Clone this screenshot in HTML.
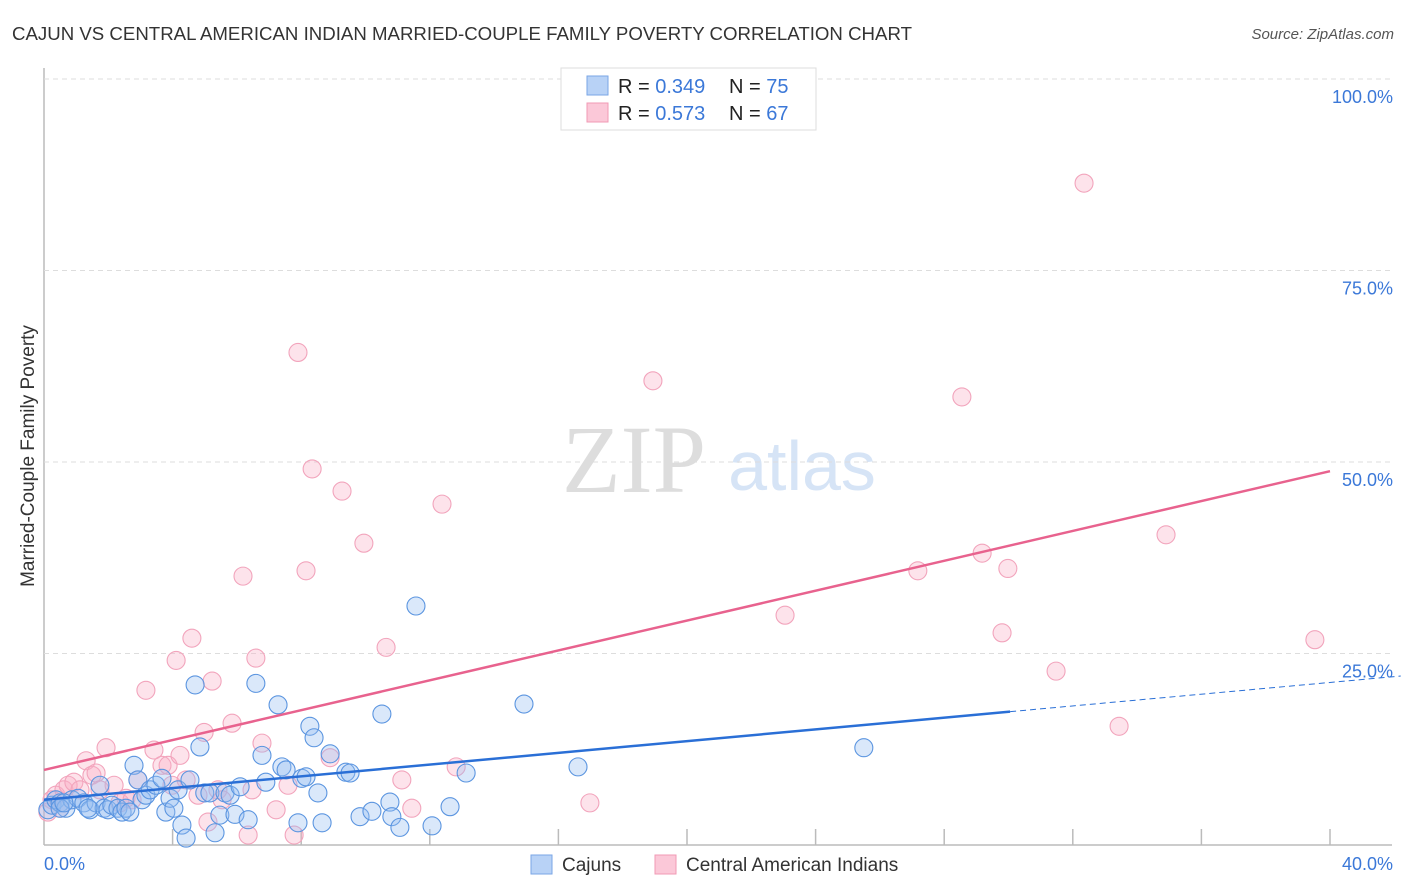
<!DOCTYPE html>
<html><head><meta charset="utf-8"><style>
body{margin:0;background:#fff;font-family:"Liberation Sans",sans-serif;}
#wrap{position:relative;width:1406px;height:892px;overflow:hidden;}
</style></head><body>
<div id="wrap">
<svg id="svg" width="1406" height="892" xmlns="http://www.w3.org/2000/svg">
<text x="12" y="40" font-size="18" fill="#333" textLength="900" lengthAdjust="spacingAndGlyphs">CAJUN VS CENTRAL AMERICAN INDIAN MARRIED-COUPLE FAMILY POVERTY CORRELATION CHART</text>
<text x="1394" y="39" font-size="15" fill="#555" font-style="italic" text-anchor="end">Source: ZipAtlas.com</text>
<text x="634" y="492" font-size="96" fill="#ddd" font-family="Liberation Serif,serif" text-anchor="middle">ZIP</text>
<text x="802" y="490" font-size="70" fill="#d6e4f6" text-anchor="middle">atlas</text>
<text transform="translate(34,456) rotate(-90)" font-size="19" fill="#333" text-anchor="middle">Married-Couple Family Poverty</text>
<g id="grid"></g><g id="pts"></g><g id="lines"></g>
<rect x="561" y="68" width="255" height="62" fill="#fff" stroke="#ddd"/>
<rect x="587" y="76" width="21" height="19" fill="#b8d2f6" stroke="#7aa6e6"/>
<rect x="587" y="103" width="21" height="19" fill="#fbc8d8" stroke="#f09ab4"/>
<text x="618" y="93" font-size="20" fill="#222">R = <tspan fill="#3b78d8">0.349</tspan></text>
<text x="729" y="93" font-size="20" fill="#222">N = <tspan fill="#3b78d8">75</tspan></text>
<text x="618" y="120" font-size="20" fill="#222">R = <tspan fill="#3b78d8">0.573</tspan></text>
<text x="729" y="120" font-size="20" fill="#222">N = <tspan fill="#3b78d8">67</tspan></text>
<rect x="531" y="855" width="21" height="19" fill="#b8d2f6" stroke="#7aa6e6"/>
<text x="562" y="871" font-size="19" fill="#333">Cajuns</text>
<rect x="655" y="855" width="21" height="19" fill="#fbc8d8" stroke="#f09ab4"/>
<text x="686" y="871" font-size="19" fill="#333">Central American Indians</text>
<text x="44" y="870" font-size="18" fill="#3b78d8">0.0%</text>
<text x="1393" y="870" font-size="18" fill="#3b78d8" text-anchor="end">40.0%</text>
</svg></div>
<script>
const yTicks=[100,75,50,25];
const yTickLabels=["100.0%","75.0%","50.0%","25.0%"];
const xTicks=[4,8,12,16,20,24,28,32,36,40];
const cajunX=[0.12,0.25,0.37,0.5,0.68,0.87,1.06,1.24,1.43,1.62,1.74,1.87,1.99,2.11,2.3,2.43,2.55,2.67,2.8,2.92,3.05,3.17,3.3,3.48,3.67,3.79,3.92,4.04,4.17,4.29,4.42,4.54,4.7,4.85,5.0,5.16,5.32,5.47,5.63,5.79,5.94,6.1,6.35,6.59,6.78,6.9,7.28,7.4,7.53,7.9,8.02,8.15,8.27,8.4,8.52,8.65,8.9,9.39,9.52,9.83,10.2,10.51,10.76,10.82,11.07,11.57,12.07,12.63,13.13,14.93,16.61,25.5,0.5,1.37,0.62];
const cajunY=[4.6,5.2,5.9,5.5,4.8,5.9,6.1,5.5,4.6,5.5,7.8,4.8,4.6,5.2,4.8,4.3,4.8,4.3,10.4,8.5,5.9,6.5,7.2,7.8,8.7,4.3,6.1,4.8,7.2,2.6,0.9,8.5,20.9,12.8,6.8,6.8,1.6,3.9,6.8,6.5,4.0,7.6,3.3,21.1,11.7,8.2,18.3,10.2,9.8,2.9,8.7,8.9,15.5,14.0,6.8,2.9,11.9,9.5,9.4,3.7,4.4,17.1,5.6,3.7,2.3,31.2,2.5,5.0,9.4,18.4,10.2,12.7,4.8,4.8,5.5];
const camX=[0.12,0.25,0.37,0.5,0.62,0.75,0.93,1.12,1.31,1.49,1.62,1.74,1.93,2.18,2.36,2.55,2.74,2.92,3.17,3.42,3.67,3.86,3.98,4.11,4.23,4.42,4.6,4.79,4.98,5.1,5.23,5.41,5.54,5.85,6.19,6.35,6.47,6.59,6.78,7.22,7.59,7.78,7.9,8.15,8.34,8.9,9.27,9.95,10.64,11.13,11.44,12.38,12.82,16.98,18.94,23.05,27.18,28.55,29.18,29.8,29.98,31.48,32.35,33.44,34.9,39.53];
const camY=[4.3,5.9,6.5,4.8,7.2,7.8,8.2,7.2,11.0,9.1,9.4,7.2,12.7,7.8,5.5,6.1,5.9,8.5,20.2,12.4,10.4,10.4,7.8,24.1,11.7,8.5,27.0,6.5,14.7,3.0,21.4,7.2,5.9,15.9,35.1,1.3,7.2,24.4,13.3,4.6,7.8,1.3,64.3,35.8,49.1,11.4,46.2,39.4,25.8,8.5,4.8,44.5,10.2,5.5,60.6,30.0,35.8,58.5,38.1,27.7,36.1,22.7,86.4,15.5,40.5,26.8];
const cajunTrend=[5.9,0.383];
const camTrend=[9.8,0.975];
const NS="http://www.w3.org/2000/svg";
const X=v=>44+v*32.15, Y=v=>845-v*7.66;
function mk(tag,attrs,parent){const e=document.createElementNS(NS,tag);for(const k in attrs)e.setAttribute(k,attrs[k]);document.getElementById(parent).appendChild(e);return e;}
let e=mk('line',{x1:44,y1:68,x2:44,y2:845,stroke:'#bbb','stroke-width':1.5},'grid');


e=mk('line',{x1:44,y1:845,x2:1392,y2:845,stroke:'#bbb','stroke-width':1.5},'grid');


yTicks.forEach((t,i)=>{
 const g=mk('line',{x1:44,y1:Y(t),x2:1392,y2:Y(t),stroke:'#ddd','stroke-dasharray':'5,4'},'grid');
 
 
 const tx=mk('text',{x:1393,y:Y(t)+24,'font-size':18,fill:'#3b78d8','text-anchor':'end'},'grid');
 tx.textContent=yTickLabels[i];
 
 
});
xTicks.forEach(t=>{
 const l=mk('line',{x1:X(t),y1:829,x2:X(t),y2:845,stroke:'#bbb','stroke-width':1.5},'grid');
 
 
});
function pts(xs,ys,fill,stroke,name){xs.forEach((x,i)=>{
 const c=mk('circle',{cx:X(x),cy:Y(ys[i]),r:9,fill:fill,stroke:stroke,'stroke-width':1.1},'pts');
 
 
});}
pts(camX,camY,'rgba(248,175,198,0.35)','#f2a4bc','point-central-american');
pts(cajunX,cajunY,'rgba(150,190,240,0.35)','#5b95e0','point-cajun');
e=mk('line',{x1:X(0),y1:Y(cajunTrend[0]),x2:X(30.05),y2:Y(cajunTrend[0]+cajunTrend[1]*30.05),stroke:'#2a6fd6','stroke-width':2.5},'lines');


e=mk('line',{x1:X(30.05),y1:Y(cajunTrend[0]+cajunTrend[1]*30.05),x2:X(42.2),y2:Y(cajunTrend[0]+cajunTrend[1]*42.2),stroke:'#2a6fd6','stroke-width':1,'stroke-dasharray':'6,4'},'lines');


e=mk('line',{x1:X(0),y1:Y(camTrend[0]),x2:X(40),y2:Y(camTrend[0]+camTrend[1]*40),stroke:'#e8628e','stroke-width':2.5},'lines');


</script>
</body></html>
